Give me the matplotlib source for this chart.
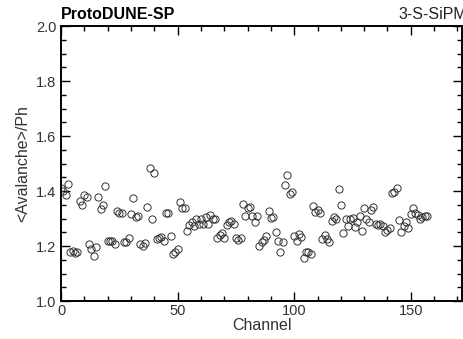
import matplotlib
matplotlib.use('Agg')
import matplotlib.pyplot as plt
from matplotlib.ticker import MultipleLocator

plt.rcParams['font.family'] = ['Liberation Sans', 'DejaVu Sans']

# channel numbers and mean avalanche / photon
channels = list(range(0, 158))
avalanche = [
    1.41, 1.40, 1.385, 1.425, 1.18, 1.182, 1.173, 1.178,
    1.364, 1.35, 1.385, 1.38, 1.207, 1.19, 1.165, 1.195,
    1.377, 1.335, 1.35, 1.418, 1.218, 1.218, 1.219, 1.206,
    1.327, 1.322, 1.319, 1.216, 1.213, 1.23, 1.315, 1.373,
    1.306, 1.309, 1.206, 1.201, 1.21, 1.343, 1.483, 1.30,
    1.464, 1.225, 1.228, 1.234, 1.218, 1.319, 1.322, 1.238,
    1.17, 1.177, 1.19, 1.359, 1.337, 1.34, 1.255, 1.276,
    1.288, 1.274, 1.30, 1.279, 1.30, 1.279, 1.306, 1.282,
    1.313, 1.30, 1.298, 1.228, 1.24, 1.246, 1.23, 1.276,
    1.288, 1.29, 1.282, 1.228, 1.222, 1.228, 1.353, 1.31,
    1.34, 1.343, 1.31, 1.289, 1.31, 1.201, 1.216, 1.222,
    1.238, 1.327, 1.303, 1.306, 1.252, 1.218, 1.177, 1.213,
    1.422, 1.458, 1.388, 1.395, 1.238, 1.218, 1.242, 1.234,
    1.158, 1.179, 1.179, 1.17, 1.347, 1.325, 1.331, 1.322,
    1.225, 1.24, 1.225, 1.213, 1.29, 1.306, 1.298, 1.407,
    1.351, 1.246, 1.298, 1.274, 1.298, 1.303, 1.27, 1.288,
    1.309, 1.255, 1.337, 1.30, 1.288, 1.331, 1.343, 1.279,
    1.276, 1.282, 1.274, 1.25, 1.258, 1.266, 1.392, 1.395,
    1.412, 1.295, 1.252, 1.274, 1.288, 1.266, 1.315, 1.337,
    1.319, 1.313, 1.30, 1.306, 1.309, 1.309,
]

fig = plt.figure(figsize=(4.63, 3.39), dpi=100)
ax = fig.add_axes([0.132, 0.112, 0.866, 0.811])

ax.plot(channels, avalanche, linestyle='none', marker='o', markersize=5.2,
        markerfacecolor='none', markeredgecolor='#333333', markeredgewidth=0.7)

ax.set_xlim(0, 172)
ax.set_ylim(1.0, 2.0)
ax.xaxis.set_major_locator(MultipleLocator(50))
ax.xaxis.set_minor_locator(MultipleLocator(10))
ax.yaxis.set_major_locator(MultipleLocator(0.2))
ax.yaxis.set_minor_locator(MultipleLocator(0.05))
ax.yaxis.set_major_formatter(plt.FormatStrFormatter('%.1f'))

ax.tick_params(which='both', direction='in', top=True, right=True,
               labelsize=10.5, labelcolor='#333333', width=1.0)
ax.tick_params(which='major', length=6.5)
ax.tick_params(which='minor', length=3.5)
ax.tick_params(axis='x', pad=2)
for s in ax.spines.values():
    s.set_linewidth(1.4)

ax.set_xlabel('Channel', fontsize=11.5, color='#333333', labelpad=0)
ax.set_ylabel('<Avalanche>/Ph', fontsize=11.5, color='#333333', labelpad=4)

fig.text(0.132, 0.935, 'ProtoDUNE-SP', fontsize=11.5, fontweight='bold',
         ha='left', va='bottom')
fig.text(0.86, 0.935, '3-S-SiPM', fontsize=11.5, ha='left', va='bottom',
         color='#222222')

plt.savefig('out.png', dpi=100)
